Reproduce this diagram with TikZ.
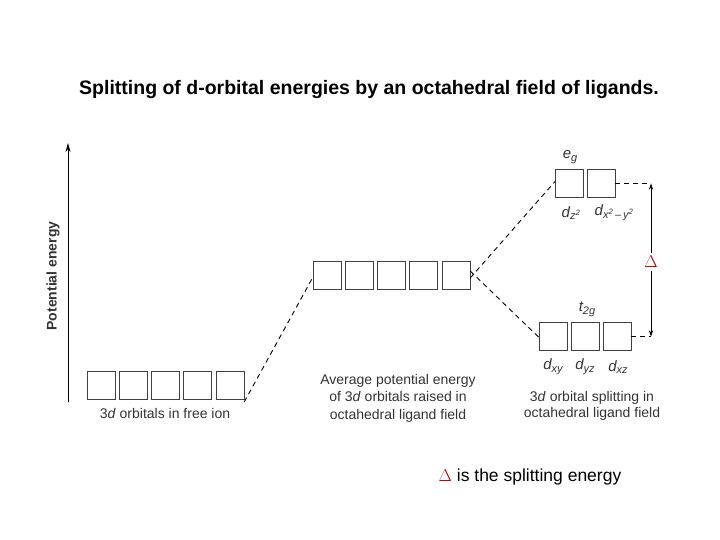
\documentclass[tikz,border=0pt]{standalone}
\usepackage{fontspec}
\setmainfont{Liberation Sans}
\usetikzlibrary{arrows.meta}
\newcommand{\sbs}[1]{\raisebox{-0.35ex}{\fontsize{11}{12}\selectfont #1}}
\begin{document}
\begin{tikzpicture}[x=1pt,y=-1pt,
  orb/.style={draw=black!75,line width=0.9pt,minimum width=28pt,minimum height=28pt,inner sep=0,outer sep=0},
  dl/.style={dashed,line width=0.9pt,dash pattern=on 5pt off 4pt},
  capt/.style={font=\fontsize{14}{16}\selectfont,text=black!80,align=center},
  lab/.style={font=\fontsize{15}{16}\selectfont\itshape,text=black!80,inner sep=1pt}]
\useasboundingbox (0,0) rectangle (720,540);
\node[font=\bfseries\fontsize{19.5}{22}\selectfont] (title) at (369,90) {Splitting of d-orbital energies by an octahedral field of ligands.};
% axis
\coordinate (ax0) at (68,402);
\coordinate (ax1) at (68,143);
\draw[-{Stealth[length=9pt,width=5pt]},line width=0.8pt] (ax0) -- (ax1);
\node[rotate=90,font=\bfseries\fontsize{14}{16}\selectfont,text=black!80] (pe) at (53,276) {Potential energy};
% free ion
\foreach \i in {0,...,4}{\node[orb] (f\i) at ({101+32.3*\i},385) {};}
\foreach \i in {0,...,4}{\node[orb] (m\i) at ({327+32.3*\i},275) {};}
\node[orb] (e0) at (569,183.5) {};
\node[orb] (e1) at (601,183.5) {};
\node[orb] (t0) at (553,336.5) {};
\node[orb] (t1) at (585,336.5) {};
\node[orb] (t2) at (617,336.5) {};
\draw[dl] ([yshift=-3pt]f4.south east) -- ([yshift=-2pt]m0.west);
\draw[dl] ([yshift=-3pt]m4.east) -- ([yshift=2pt]e0.west);
\draw[dl] ([yshift=4pt]m4.east) -- ([yshift=-1pt]t0.west);
\coordinate (dt) at (651,183.5);
\coordinate (db) at (651,336.5);
\draw[dl] (e1.east) -- (dt);
\draw[dl] (t2.east) -- (db);
\node[text=red!70!black,font=\fontsize{16}{17}\selectfont] (delta) at (651,262) {$\Delta$};
\draw[-{Stealth[length=6pt,width=4pt]},line width=0.6pt] (delta) -- (dt);
\draw[-{Stealth[length=6pt,width=4pt]},line width=0.6pt] (delta) -- (db);
% labels
\node[lab] (eg) at (570,157) {e\sbs{g}};
\node[lab] (dz) at (571,213) {d\sbs{z\textsuperscript{2}}};
\node[lab] (dx) at (614,213) {d\sbs{x\textsuperscript{2}\,\textendash\,y\textsuperscript{2}}};
\node[lab] (tg) at (587,309) {t\sbs{2g}};
\node[lab] (dxy) at (553,367) {d\sbs{xy}};
\node[lab] (dyz) at (585,367) {d\sbs{yz}};
\node[lab] (dxz) at (618,367) {d\sbs{xz}};
\node[capt] (c1) at (165,413) {3\textit{d} orbitals in free ion};
\node[capt,font=\fontsize{14}{17.5}\selectfont] (c2) at (398,398) {Average potential energy\\of 3\textit{d} orbitals raised in\\octahedral ligand field};
\node[capt,font=\fontsize{14}{15.5}\selectfont] (c3) at (592,406) {3\textit{d} orbital splitting in\\octahedral ligand field};
\node[font=\fontsize{17.5}{19}\selectfont] (note) at (530,477) {\textcolor{red!70!black}{$\Delta$} is the splitting energy};
\end{tikzpicture}
\end{document}
